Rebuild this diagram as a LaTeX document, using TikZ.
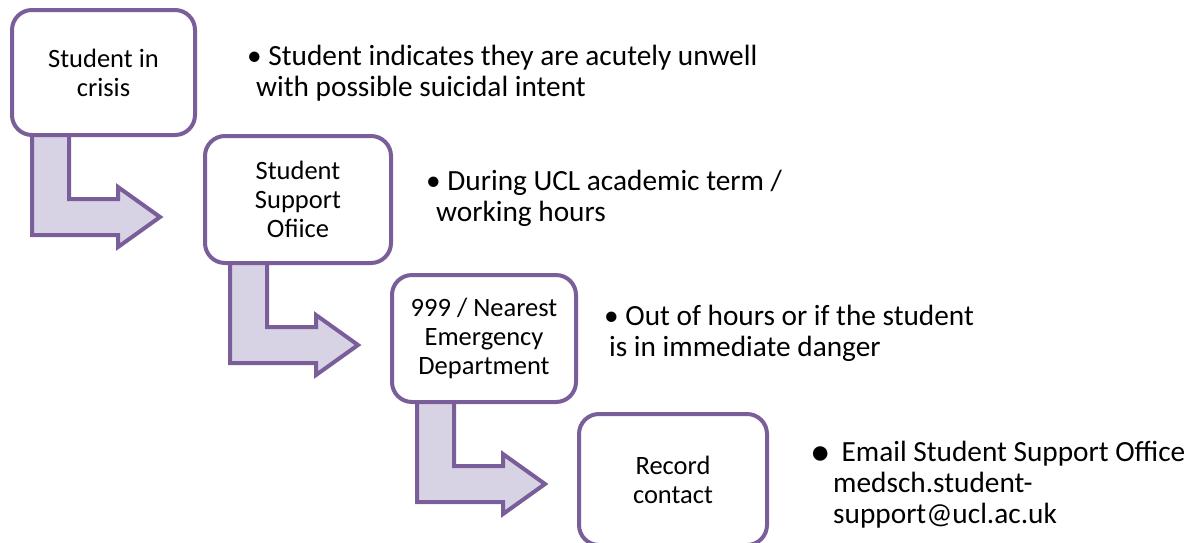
\documentclass[tikz,border=0pt]{standalone}
\usepackage{fontspec}
\setmainfont{Carlito}
\usetikzlibrary{calc,backgrounds}
\definecolor{purp}{RGB}{122,94,154}
\definecolor{lav}{RGB}{216,211,228}
\begin{document}
\begin{tikzpicture}[x=1pt,y=-1pt,
 box/.style={draw=purp, line width=4pt, fill=white, rounded corners=20pt,
   minimum width=183pt, minimum height=125pt, outer sep=0pt, inner sep=0pt,
   align=center, font=\fontsize{26.5pt}{29pt}\selectfont},
 side/.style={anchor=base west, align=left, inner sep=0pt,
   font=\fontsize{29.3pt}{31pt}\selectfont},
 bentarrow/.pic={\draw[draw=purp, fill=lav, line width=4pt, line join=miter]
   (0,-6) -- (37,-6) -- (37,64) -- (86,64) -- (86,52) -- (128,82)
   -- (86,112) -- (86,100) -- (0,100) -- cycle;}
]
\useasboundingbox (0,0) rectangle (1193,542);
\node[box] (b1) at (103.5,72.5) {Student in\\crisis};
\node[box, minimum width=186pt, minimum height=127pt] (b2) at (298,199.5) {Student\\Support\\Ofiice};
\node[box, minimum width=184pt, minimum height=127pt] (b3) at (484,338.5) {999 / Nearest\\Emergency\\Department};
\node[box, minimum width=188pt, minimum height=131pt] (b4) at (673,479.5) {Record\\contact};
\begin{scope}[on background layer]
\pic at ($(b1.south west)+(20,0)$) {bentarrow};
\pic at ($(b2.south west)+(25,0)$) {bentarrow};
\pic at ($(b3.south west)+(25,0)$) {bentarrow};
\end{scope}
\node[side] (t1) at (247,96) {• Student indicates they are acutely unwell\\\hspace*{9pt}with possible suicidal intent};
\node[side] (t2) at (426,221) {• During UCL academic term /\\\hspace*{10pt}working hours};
\node[side] (t3) at (604,356) {• Out of hours or if the student\\\hspace*{5pt}is in immediate danger};
\node[side] (t4) at (810,523) {\raisebox{-4pt}{\fontsize{41pt}{34pt}\selectfont •}\hspace{11pt}Email Student Support Office\\\hspace*{23pt}medsch.student-\\\hspace*{23pt}support@ucl.ac.uk};
\end{tikzpicture}
\end{document}
